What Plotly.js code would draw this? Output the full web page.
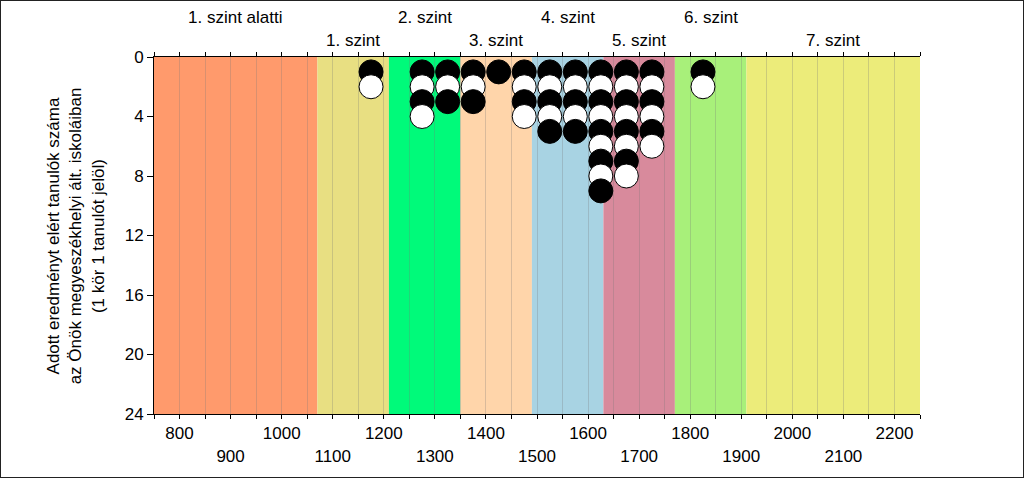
<!DOCTYPE html>
<html>
<head>
<meta charset="utf-8">
<script src="https://cdn.plot.ly/plotly-3.0.1.min.js"></script>
<style>
  html, body { margin: 0; padding: 0; background: #fff; }
  #frame { width: 1024px; height: 478px; box-sizing: border-box; border: 1px solid #222; }
  #chart { width: 1022px; height: 476px; }
</style>
</head>
<body>
<div id="frame"><div id="chart"></div></div>
<script>
// Competency levels (bands)
const levelNames  = ["1. szint alatti", "1. szint", "2. szint", "3. szint", "4. szint", "5. szint", "6. szint", "7. szint"];
const levelStart  = [750, 1070, 1210, 1350, 1490, 1630, 1770, 1910];
const levelEnd    = [1070, 1210, 1350, 1490, 1630, 1770, 1910, 2250];
const levelColors = ["#FF9A6C", "#E8DF82", "#00FA7A", "#FFD5AA", "#A8D3E3", "#D88A9C", "#A8F07A", "#ECEC7A"];
const labelRow    = [1, 2, 1, 2, 1, 2, 1, 2];

// Students: score bin centres and number of students per bin
const scoreBins  = [1175, 1275, 1325, 1375, 1425, 1475, 1525, 1575, 1625, 1675, 1725, 1825];
const binCounts  = [2, 4, 3, 3, 1, 4, 5, 5, 9, 8, 6, 2];

// Axis ticks
const xTickVals = [];
for (let v = 750; v <= 2250; v += 50) xTickVals.push(v);
const xTickText = xTickVals.map(v => (v % 100 !== 0) ? "" : ((v / 100) % 2 === 0 ? String(v) : "<br>" + v));
const yTickVals = [0, 4, 8, 12, 16, 20, 24];

const yTitleLines = ["Adott eredményt elért tanulók száma", "az Önök megyeszékhelyi ált. iskoláiban", "(1 kör 1 tanulót jelöl)"];

// Build dot positions: one circle per student, stacked
const px = [], py = [], pc = [];
scoreBins.forEach((b, i) => {
  for (let k = 1; k <= binCounts[i]; k++) {
    px.push(b); py.push(k); pc.push(k % 2 === 1 ? "#000000" : "#FFFFFF");
  }
});

const fam = "Liberation Sans, Arial, sans-serif";
const font = { family: fam, size: 17, color: "#000" };

const shapes = levelNames.map((n, i) => ({
  type: "rect", xref: "x", yref: "y", layer: "below",
  x0: levelStart[i], x1: levelEnd[i], y0: 0, y1: 24,
  fillcolor: levelColors[i], line: { width: 0 }
}));

const annotations = levelNames.map((n, i) => ({
  text: n, xref: "x", yref: "paper",
  x: (levelStart[i] + levelEnd[i]) / 2,
  y: labelRow[i] === 1 ? 1.112 : 1.045,
  xanchor: "center", yanchor: "middle", showarrow: false,
  font: { family: fam, size: 17, color: "#000" }
}));
annotations.push({
  text: yTitleLines.join("<br>"), xref: "paper", yref: "paper",
  x: -0.102, y: 0.5, xanchor: "center", yanchor: "middle",
  textangle: -90, showarrow: false,
  font: { family: fam, size: 17, color: "#000" }
});

const trace = {
  type: "scatter", mode: "markers", x: px, y: py,
  marker: { size: 24, color: pc, line: { color: "#000", width: 1 } },
  hoverinfo: "x+y", cliponaxis: false
};

const layout = {
  width: 1022, height: 476,
  margin: { l: 153, r: 103, t: 56, b: 63 },
  paper_bgcolor: "#fff", plot_bgcolor: "#fff",
  font: font,
  showlegend: false,
  xaxis: {
    range: [750, 2250], tickmode: "array", tickvals: xTickVals, ticktext: xTickText,
    ticks: "outside", ticklen: 4, tickcolor: "#000", tickwidth: 1,
    showline: true, linecolor: "#000", linewidth: 1, mirror: "ticks",
    showgrid: true, gridcolor: "rgba(120,120,120,0.28)", gridwidth: 1,
    zeroline: false, tickfont: { family: fam, size: 17, color: "#000" }
  },
  yaxis: {
    range: [24, 0], tickmode: "array", tickvals: yTickVals,
    ticks: "outside", ticklen: 6, tickcolor: "#000",
    showline: true, linecolor: "#000", linewidth: 1,
    showgrid: false, zeroline: false,
    tickfont: { family: fam, size: 17, color: "#000" }
  },
  shapes: shapes,
  annotations: annotations
};

Plotly.newPlot("chart", [trace], layout, { displayModeBar: false, staticPlot: true });
</script>
</body>
</html>
